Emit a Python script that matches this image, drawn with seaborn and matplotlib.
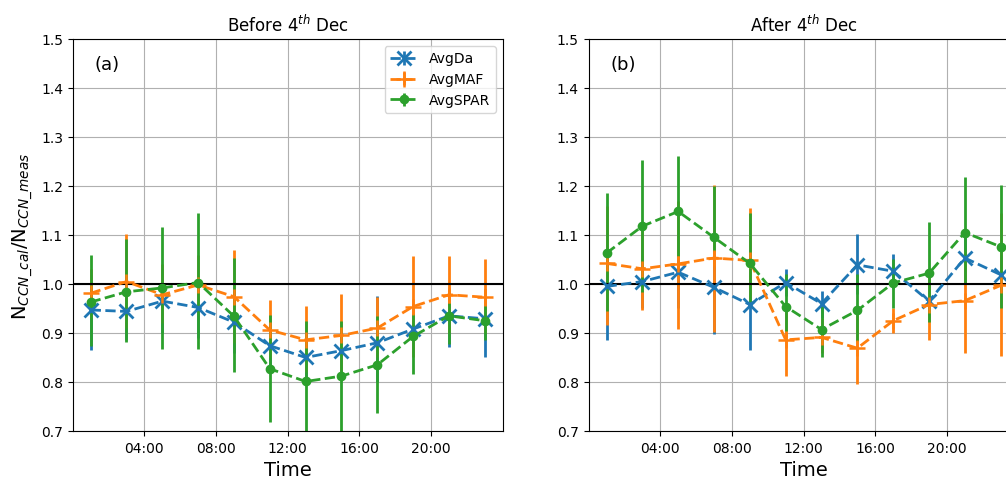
import matplotlib
matplotlib.use("Agg")
import matplotlib.pyplot as plt
from matplotlib.ticker import FuncFormatter
import numpy as np
import seaborn as sns

# hours of the day (2-hour bin centres)
hours = np.array([1, 3, 5, 7, 9, 11, 13, 15, 17, 19, 21, 23])
series_names = ["AvgDa", "AvgMAF", "AvgSPAR"]
hour_ticks = [4, 8, 12, 16, 20]

# --- Before 4th Dec: mean ratio and lower / upper bound of the bars ---
before_da = np.array([0.947, 0.944, 0.965, 0.952, 0.922, 0.874, 0.850, 0.864, 0.880, 0.908, 0.935, 0.929])
before_da_lo = np.array([0.865, 0.885, 0.90, 0.89, 0.86, 0.82, 0.80, 0.81, 0.80, 0.86, 0.871, 0.852])
before_da_hi = np.array([1.02, 1.01, 1.03, 1.01, 0.98, 0.93, 0.90, 0.92, 0.976, 0.96, 0.99, 0.99])

before_maf = np.array([0.981, 1.005, 0.978, 0.998, 0.974, 0.906, 0.886, 0.895, 0.910, 0.954, 0.978, 0.973])
before_maf_lo = np.array([0.93, 0.91, 0.92, 0.94, 0.88, 0.85, 0.82, 0.81, 0.85, 0.85, 0.90, 0.90])
before_maf_hi = np.array([1.03, 1.101, 1.04, 1.06, 1.069, 0.967, 0.956, 0.980, 0.973, 1.058, 1.058, 1.051])

before_spar = np.array([0.963, 0.984, 0.992, 1.003, 0.934, 0.827, 0.801, 0.812, 0.835, 0.893, 0.935, 0.925])
before_spar_lo = np.array([0.874, 0.881, 0.867, 0.867, 0.820, 0.718, 0.68, 0.69, 0.736, 0.816, 0.878, 0.885])
before_spar_hi = np.array([1.060, 1.091, 1.117, 1.144, 1.054, 0.936, 0.925, 0.925, 0.935, 0.939, 0.961, 0.956])

# --- After 4th Dec ---
after_da = np.array([0.995, 1.005, 1.024, 0.993, 0.958, 1.003, 0.960, 1.039, 1.026, 0.965, 1.053, 1.019])
after_da_lo = np.array([0.886, 0.95, 0.95, 0.898, 0.865, 0.975, 0.93, 0.98, 0.99, 0.93, 1.0, 0.98])
after_da_hi = np.array([1.08, 1.06, 1.10, 1.08, 1.05, 1.031, 0.985, 1.102, 1.061, 1.0, 1.10, 1.06])

after_maf = np.array([1.042, 1.031, 1.041, 1.053, 1.048, 0.886, 0.891, 0.869, 0.925, 0.958, 0.966, 0.997])
after_maf_lo = np.array([0.917, 0.946, 0.908, 0.903, 0.97, 0.813, 0.86, 0.796, 0.900, 0.886, 0.859, 0.853])
after_maf_hi = np.array([1.16, 1.11, 1.17, 1.203, 1.155, 0.95, 0.93, 0.94, 0.951, 1.03, 1.07, 1.145])

after_spar = np.array([1.063, 1.118, 1.148, 1.095, 1.042, 0.954, 0.907, 0.946, 1.002, 1.022, 1.105, 1.076])
after_spar_lo = np.array([0.944, 0.983, 1.058, 1.068, 0.963, 0.905, 0.850, 0.883, 0.951, 0.922, 1.0, 0.952])
after_spar_hi = np.array([1.185, 1.253, 1.262, 1.199, 1.144, 1.02, 0.96, 1.02, 1.050, 1.127, 1.218, 1.203])

sns.set_theme(style="ticks", palette="tab10", rc={
    "axes.edgecolor": "black",
    "axes.linewidth": 0.8,
    "text.color": "black",
    "axes.labelcolor": "black",
    "xtick.color": "black",
    "ytick.color": "black",
    "xtick.labelsize": 10,
    "ytick.labelsize": 10,
    "xtick.major.size": 3.5,
    "ytick.major.size": 3.5,
    "xtick.major.width": 0.8,
    "ytick.major.width": 0.8,
    "axes.titlesize": 12,
    "axes.labelsize": 14,
    "legend.fontsize": 10,
})
plt.rcParams["font.family"] = ["DejaVu Sans"]

colors = sns.color_palette("tab10", 3)
markers = ["x", "+", "o"]
msizes = [10, 11, 6]
mwidths = [2, 1.8, 1]


def draw_panel(ax, vals, los, his, title, tag, legend=False):
    for name, v, lo, hi, c, mk, ms, mew in zip(series_names, vals, los, his,
                                               colors, markers, msizes, mwidths):
        yerr = np.vstack([v - lo, hi - v])
        ax.errorbar(hours, v, yerr=yerr, color=c, ls="--", lw=2, elinewidth=2,
                    marker=mk, ms=ms, mew=mew, label=name)
    ax.axhline(1.0, color="black", lw=1.5)
    ax.set_xlim(0, 24)
    ax.set_ylim(0.7, 1.5)
    ax.set_yticks(np.arange(0.7, 1.51, 0.1))
    ax.set_xticks(hour_ticks)
    ax.xaxis.set_major_formatter(FuncFormatter(lambda x, p: "%02d:00" % x))
    ax.grid(True, color="#b0b0b0", lw=0.8)
    ax.set_title(title)
    ax.set_xlabel("Time")
    ax.text(0.08, 0.936, tag, transform=ax.transAxes, fontsize=13,
            ha="center", va="center")
    if legend:
        ax.legend(loc="upper right", frameon=True, framealpha=0.8,
                  edgecolor="0.8", fancybox=True)


fig = plt.figure(figsize=(10.06, 4.81), dpi=100)
ax1 = fig.add_axes([0.0723, 0.1019, 0.4274, 0.815])
ax2 = fig.add_axes([0.5851, 0.1019, 0.4274, 0.815])

draw_panel(ax1, [before_da, before_maf, before_spar],
           [before_da_lo, before_maf_lo, before_spar_lo],
           [before_da_hi, before_maf_hi, before_spar_hi],
           "Before 4$^{th}$ Dec", "(a)", legend=True)
draw_panel(ax2, [after_da, after_maf, after_spar],
           [after_da_lo, after_maf_lo, after_spar_lo],
           [after_da_hi, after_maf_hi, after_spar_hi],
           "After 4$^{th}$ Dec", "(b)")

ax1.set_ylabel(r"N$_{CCN\_cal}$/N$_{CCN\_meas}$")

fig.savefig("out.png", dpi=100)
